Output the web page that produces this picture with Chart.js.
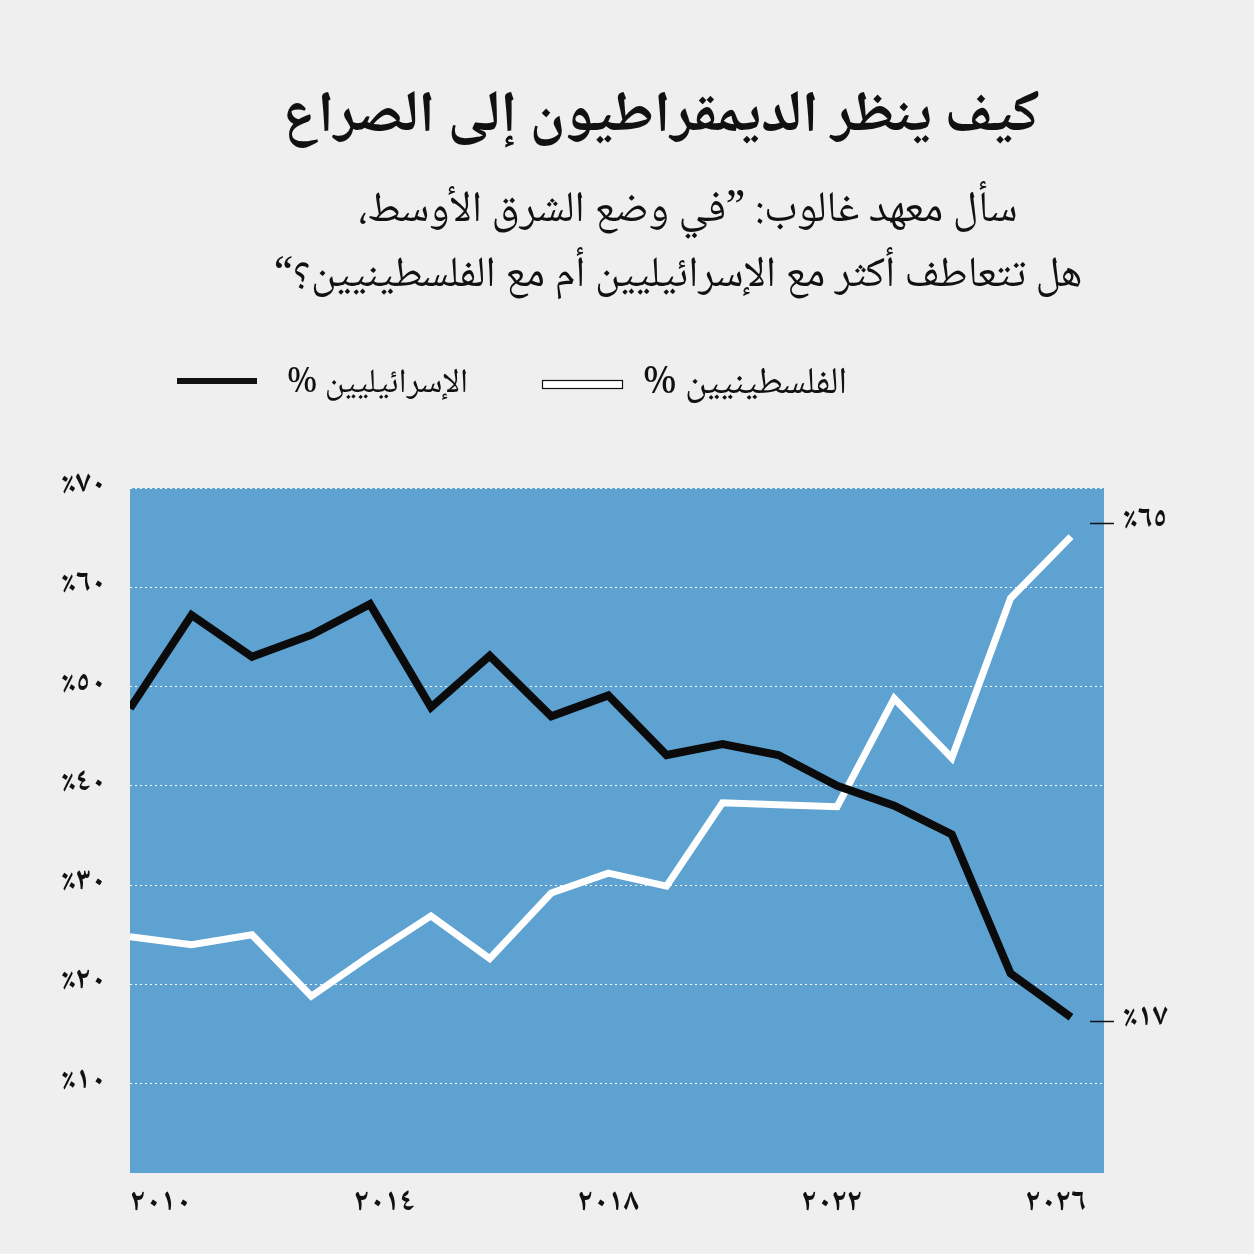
<!DOCTYPE html>
<html lang="ar">
<head>
<meta charset="utf-8">
<script src="https://cdn.jsdelivr.net/npm/chart.js@4.4.0/dist/chart.umd.min.js"></script>
<style>
html,body{margin:0;padding:0;background:#efefef;}
#wrap{width:1254px;height:1254px;position:relative;}
canvas{display:block;}
</style>
</head>
<body>
<div id="wrap"><canvas id="c" width="1254" height="1254"></canvas></div>
<script>
// ---- data ----
const surveyYears = [2009.45, 2010.55, 2011.63, 2012.69, 2013.74, 2014.83, 2015.88, 2016.98, 2018.0, 2019.04, 2020.04, 2021.04, 2022.09, 2023.11, 2024.14, 2025.19, 2026.27];
const israelis = [47.8, 57.2, 53.0, 55.2, 58.3, 47.9, 53.1, 47.0, 49.1, 43.1, 44.2, 43.1, 40.0, 38.0, 35.1, 21.1, 16.7];
const palestinians = [24.8, 24.0, 25.0, 18.8, 22.9, 26.9, 22.6, 29.2, 31.2, 29.9, 38.3, 38.1, 37.9, 48.8, 42.8, 58.9, 65.1];
const xTickYears = [2010, 2014, 2018, 2022, 2026];
const xTickLabels = ['٢٠١٠', '٢٠١٤', '٢٠١٨', '٢٠٢٢', '٢٠٢٦'];
const yTickValues = [10, 20, 30, 40, 50, 60, 70];
const yTickLabels = ['٪١٠', '٪٢٠', '٪٣٠', '٪٤٠', '٪٥٠', '٪٦٠', '٪٧٠'];
const seriesNames = ['الإسرائيليين', 'الفلسطينيين'];
const endLabels = ['٪١٧', '٪٦٥'];
const titleText = 'كيف ينظر الديمقراطيون إلى الصراع';
const subtitleLines = ['سأل معهد غالوب: ”في وضع الشرق الأوسط،', 'هل تتعاطف أكثر مع الإسرائيليين أم مع الفلسطينيين؟“'];

// ---- style ----
const FAMILY = "'Noto Naskh Arabic','Noto Sans Arabic','DejaVu Sans',sans-serif";
const BLUE = '#5ea2d2';
const INK = '#111111';

function fitFont(ctx, text, weight, base, targetW) {
  ctx.font = `${weight} ${base}px ${FAMILY}`;
  const w = ctx.measureText(text).width || targetW;
  let size = base * targetW / w;
  size = Math.max(base * 0.75, Math.min(base * 1.25, size));
  ctx.font = `${weight} ${size.toFixed(1)}px ${FAMILY}`;
}

const decor = {
  id: 'decor',
  beforeDraw(chart) {
    const {ctx, chartArea: a} = chart;
    ctx.save();
    ctx.fillStyle = '#efefef';
    ctx.fillRect(0, 0, chart.width, chart.height);
    ctx.fillStyle = BLUE;
    ctx.fillRect(a.left, a.top, a.right - a.left, a.bottom - a.top);
    ctx.restore();
  },
  afterDraw(chart) {
    const {ctx} = chart;
    const y = chart.scales.y;
    ctx.save();
    ctx.fillStyle = INK;
    ctx.textBaseline = 'middle';
    // title
    ctx.direction = 'rtl';
    ctx.textAlign = 'center';
    fitFont(ctx, titleText, 'bold', 52, 757);
    ctx.fillText(titleText, 661, 124);
    // subtitle
    fitFont(ctx, subtitleLines[0], 'normal', 36, 659);
    ctx.fillText(subtitleLines[0], 688, 215);
    fitFont(ctx, subtitleLines[1], 'normal', 36, 809);
    ctx.fillText(subtitleLines[1], 678, 281);

    // legend
    ctx.direction = 'ltr';
    ctx.textAlign = 'left';
    ctx.fillStyle = INK;
    ctx.fillRect(177, 378, 80, 6);
    fitFont(ctx, '% ' + seriesNames[0], 'normal', 30, 181);
    ctx.fillText('% ' + seriesNames[0], 287, 388);
    ctx.fillStyle = '#ffffff';
    ctx.fillRect(542.5, 380.5, 80, 8);
    ctx.strokeStyle = INK;
    ctx.lineWidth = 1.2;
    ctx.strokeRect(542.5, 380.5, 80, 8);
    ctx.fillStyle = INK;
    fitFont(ctx, '% ' + seriesNames[1], 'normal', 30, 208);
    ctx.fillText('% ' + seriesNames[1], 643, 388);

    // end labels
    const lastIdx = surveyYears.length - 1;
    const ends = [
      {v: israelis[lastIdx], t: endLabels[0], off: 4},
      {v: palestinians[lastIdx], t: endLabels[1], off: -14}
    ];
    ctx.font = `bold 31px ${FAMILY}`;
    ends.forEach(e => {
      const py = Math.round(y.getPixelForValue(e.v) + e.off) + 0.5;
      ctx.strokeStyle = INK;
      ctx.lineWidth = 1.5;
      ctx.beginPath();
      ctx.moveTo(1090, py);
      ctx.lineTo(1114, py);
      ctx.stroke();
      ctx.fillText(e.t, 1123, py);
    });
    ctx.restore();
  }
};

new Chart(document.getElementById('c'), {
  type: 'line',
  data: {
    datasets: [
      {
        label: seriesNames[0],
        data: surveyYears.map((x, i) => ({x, y: israelis[i]})),
        borderColor: '#0b0b0b',
        borderWidth: 8,
        pointRadius: 0,
        tension: 0,
        borderJoinStyle: 'miter',
        order: 0
      },
      {
        label: seriesNames[1],
        data: surveyYears.map((x, i) => ({x, y: palestinians[i]})),
        borderColor: '#ffffff',
        borderWidth: 7,
        pointRadius: 0,
        tension: 0,
        borderJoinStyle: 'miter',
        order: 1
      }
    ]
  },
  options: {
    responsive: false,
    animation: false,
    devicePixelRatio: 1,
    layout: {padding: {top: 488, right: 150, left: 0, bottom: 0}},
    plugins: {legend: {display: false}, tooltip: {enabled: false}, title: {display: false}},
    scales: {
      x: {
        type: 'linear',
        min: 2009.45,
        max: 2026.86,
        afterFit(s) { s.height = 81; },
        afterBuildTicks(s) { s.ticks = xTickYears.map(v => ({value: v})); },
        grid: {display: false, drawTicks: false},
        border: {display: false},
        ticks: {
          padding: 14,
          color: INK,
          font: {family: FAMILY, size: 31, weight: 'bold'},
          maxRotation: 0,
          autoSkip: false,
          callback: (v) => { const i = xTickYears.indexOf(v); return i >= 0 ? xTickLabels[i] : ''; }
        }
      },
      y: {
        type: 'linear',
        min: 1,
        max: 70,
        afterFit(s) { s.width = 130; },
        afterBuildTicks(s) { s.ticks = yTickValues.map(v => ({value: v})); },
        grid: {color: 'rgba(255,255,255,0.95)', lineWidth: 1, drawTicks: false},
        border: {display: false, dash: [2, 3]},
        ticks: {
          padding: 24,
          color: INK,
          font: {family: FAMILY, size: 31, weight: 'bold'},
          callback: (v) => { const i = yTickValues.indexOf(v); return i >= 0 ? yTickLabels[i] : ''; }
        }
      }
    }
  },
  plugins: [decor]
});
</script>
</body>
</html>
